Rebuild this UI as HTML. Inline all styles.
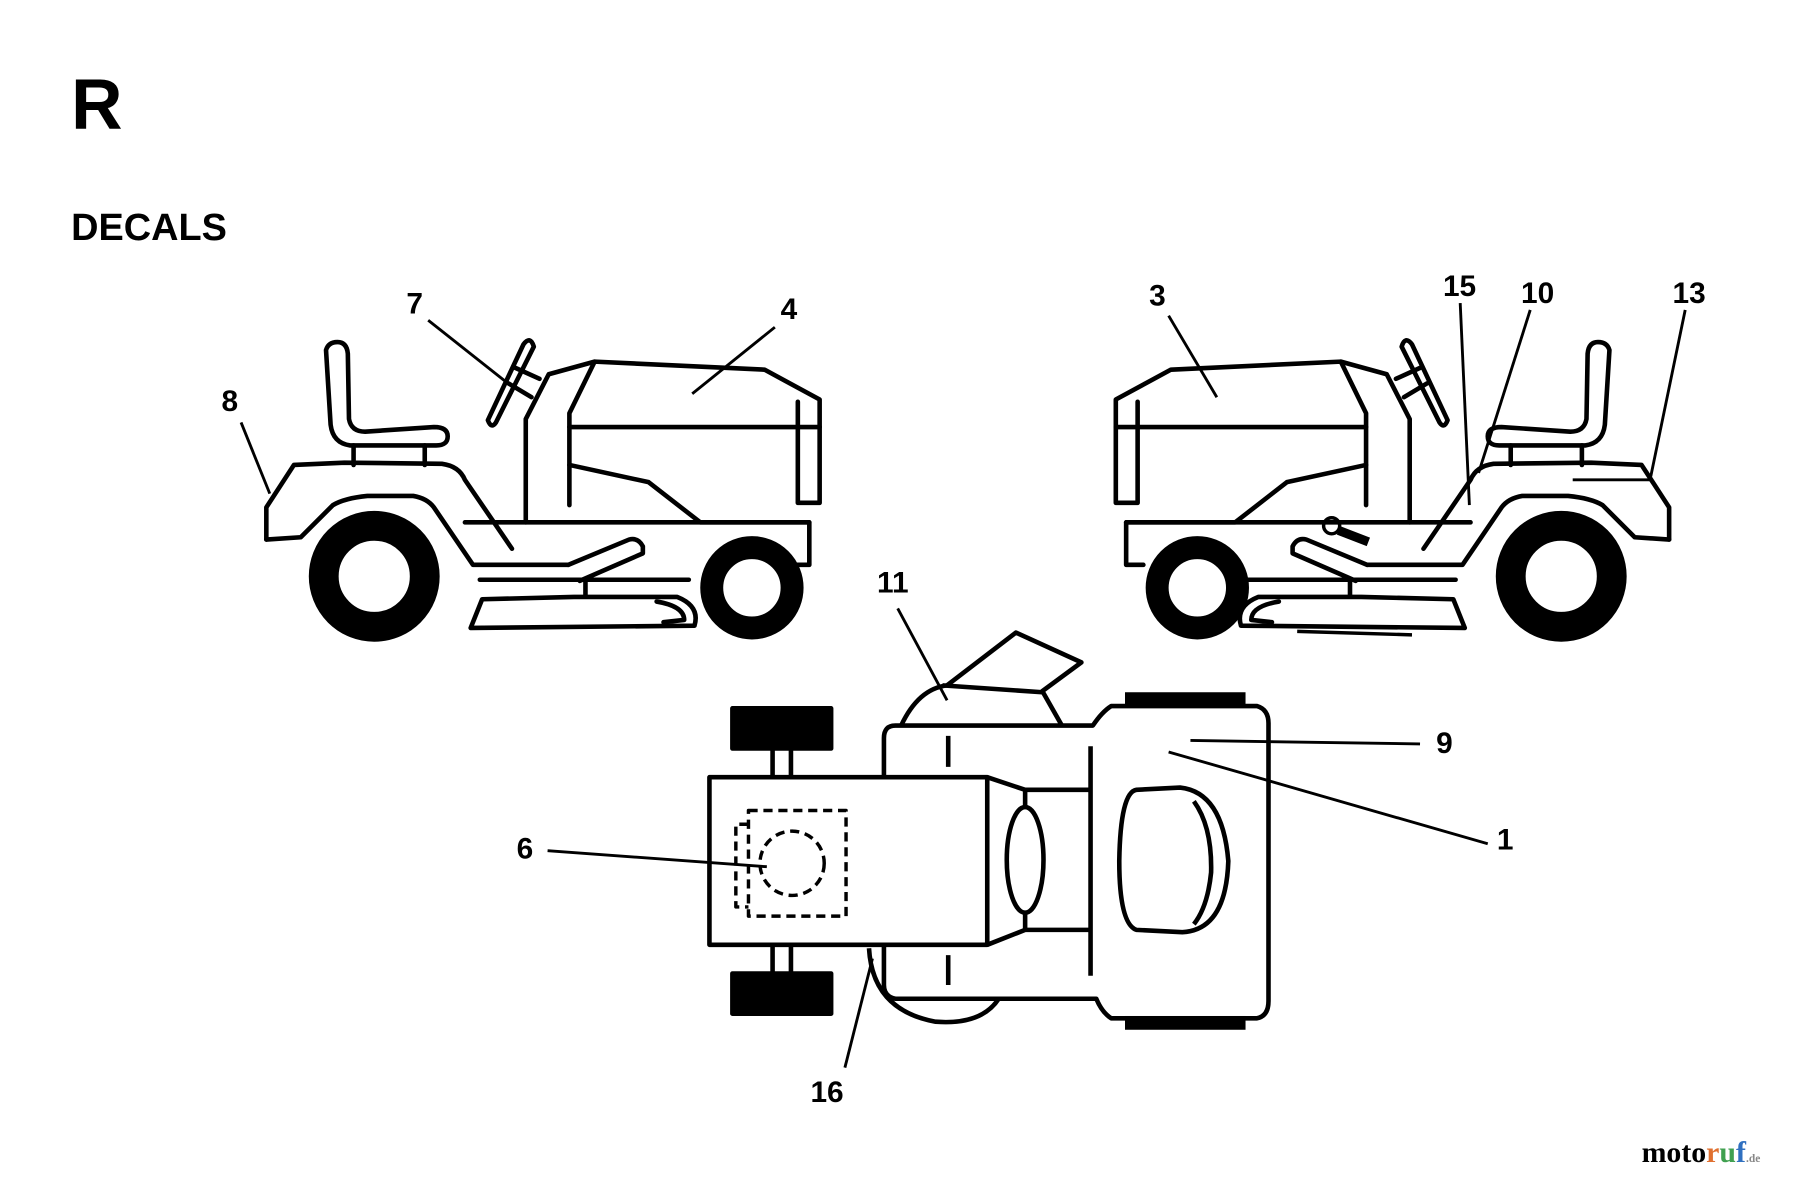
<!DOCTYPE html>
<html><head><meta charset="utf-8"><style>
html,body{margin:0;padding:0;background:#fff;width:1800px;height:1179px;overflow:hidden}
svg{display:block}
text{font-family:"Liberation Sans",Arial,sans-serif;font-weight:bold;fill:#000}
</style></head><body>
<svg width="1800" height="1179" viewBox="0 0 1568 1027" preserveAspectRatio="none" xmlns="http://www.w3.org/2000/svg">
<rect width="1568" height="1027" fill="#fff"/>
<text x="62" y="112" font-size="62">R</text>
<text x="62" y="209" font-size="33">DECALS</text>

<g id="lt" fill="none" stroke="#000" stroke-width="4" stroke-linejoin="round" stroke-linecap="round">
 <path d="M284,305 Q286,298 294,298 Q302,298 303,308 L304,365 Q306,376 318,376 L378,372 Q390,372 390,380 Q390,388 380,388 L305,388 Q290,386 288,370 Z"/>
 <line x1="308" y1="388" x2="308" y2="405"/><line x1="370" y1="388" x2="370" y2="405"/>
 <path d="M232,470 L232,442 L256,405 L300,403 L385,404 Q400,406 405,418 L446,478"/>
 <path d="M232,470 L262,468 L290,440 Q300,434 320,432 L360,432 Q372,434 378,442 L412,492 L495,492"/>
 <path d="M425,366 L456,300 Q462,292 465,302 L432,368 Q428,374 425,366 Z"/>
 <line x1="448" y1="320" x2="470" y2="330"/><line x1="443" y1="334" x2="463" y2="346"/>
 <path d="M458,455 L458,365 L478,326 L518,315 L666,322 L714,348 L714,438 L695,438 L695,350"/>
 <path d="M496,440 L496,360 L518,315"/>
 <line x1="496" y1="372" x2="714" y2="372"/>
 <path d="M496,405 L565,420 L610,455 L705,455"/>
 <path d="M405,455 L705,455 L705,492 L690,492"/>
 <path d="M495,492 L548,470 Q556,468 560,476 L560,482 L505,506"/>
 <line x1="418" y1="505" x2="600" y2="505"/>
 <path d="M510,505 L510,520 M500,520 L590,520 Q610,528 605,545 L410,547 L420,522 L500,520"/>
 <path d="M572,524 Q596,528 596,540 L578,542"/>
</g>
<g>
 <circle cx="326" cy="502" r="44" fill="none" stroke="#000" stroke-width="26"/>
 <circle cx="655" cy="512" r="35" fill="none" stroke="#000" stroke-width="20"/>
</g>
<g transform="translate(1686,0) scale(-1,1)">
 <use href="#lt"/>
 <circle cx="326" cy="502" r="44" fill="none" stroke="#000" stroke-width="26"/>
 <circle cx="643" cy="512" r="35" fill="none" stroke="#000" stroke-width="20"/>
</g>
<g fill="none" stroke="#000" stroke-width="3">
 <circle cx="1160" cy="458" r="7"/><line x1="1166" y1="462" x2="1192" y2="472" stroke-width="8"/>
 <line x1="1130" y1="550" x2="1230" y2="553"/>
</g>

<g fill="none" stroke="#000" stroke-width="4" stroke-linejoin="round">
 <rect x="638" y="617" width="86" height="35" fill="#000"/>
 <rect x="638" y="848" width="86" height="35" fill="#000"/>
 <line x1="673" y1="652" x2="673" y2="677"/><line x1="689" y1="652" x2="689" y2="677"/>
 <line x1="673" y1="823" x2="673" y2="848"/><line x1="689" y1="823" x2="689" y2="848"/>
 <rect x="980" y="603" width="105" height="13" fill="#000" stroke="none"/>
 <rect x="980" y="885" width="105" height="12" fill="#000" stroke="none"/>
 <path d="M785,632 Q800,600 825,597 L885,551 L942,577 L908,602 L925,632"/>
 <path d="M821,597 L908,603"/>
 <path d="M757,826 Q760,880 815,890 Q855,893 870,870"/>
 <path d="M770,677 L770,643 Q770,632 780,632 L952,632 Q960,620 968,615 L1095,615 Q1105,618 1105,630 L1105,872 Q1105,885 1095,887 L968,887 Q960,882 955,870 L780,870 Q770,868 770,858 L770,823"/>
 <rect x="618" y="677" width="242" height="146" fill="#fff"/>
 <path d="M860,677 L893,688 L950,688 M860,823 L893,810 L950,810"/>
 <line x1="893" y1="688" x2="893" y2="703"/><line x1="893" y1="795" x2="893" y2="810"/>
 <ellipse cx="893" cy="749" rx="16" ry="46"/>
 <line x1="950" y1="650" x2="950" y2="850"/>
 <line x1="826" y1="641" x2="826" y2="668"/><line x1="826" y1="832" x2="826" y2="858"/>
 <path d="M990,688 L1028,686 Q1065,690 1070,750 Q1068,810 1030,812 L990,810 Q975,805 975,750 Q976,690 990,688 Z"/>
 <path d="M1040,698 Q1056,720 1055,760 Q1052,790 1040,805"/>
 <g stroke-dasharray="8,5" stroke-width="3">
  <rect x="652" y="706" width="85" height="92"/>
  <path d="M652,718 L641,718 L641,790 L652,790"/>
  <circle cx="690" cy="752" r="28"/>
 </g>
</g>

<g stroke="#000" stroke-width="2.5">
 <line x1="210" y1="368" x2="235" y2="430"/>
 <line x1="373" y1="279" x2="440" y2="332"/>
 <line x1="675" y1="285" x2="603" y2="343"/>
 <line x1="1018" y1="275" x2="1060" y2="346"/>
 <line x1="1272" y1="264" x2="1280" y2="440"/>
 <line x1="1333" y1="270" x2="1288" y2="412"/>
 <line x1="1468" y1="270" x2="1438" y2="415"/>
 <line x1="1370" y1="418" x2="1438" y2="418"/>
 <line x1="782" y1="530" x2="825" y2="610"/>
 <line x1="1037" y1="645" x2="1237" y2="648"/>
 <line x1="1018" y1="655" x2="1296" y2="735"/>
 <line x1="477" y1="741" x2="668" y2="755"/>
 <line x1="736" y1="930" x2="760" y2="835"/>
</g>
<g font-size="26">
 <text x="193" y="358">8</text>
 <text x="354" y="273">7</text>
 <text x="680" y="278">4</text>
 <text x="1001" y="266">3</text>
 <text x="1257" y="258">15</text>
 <text x="1325" y="264">10</text>
 <text x="1457" y="264">13</text>
 <text x="764" y="516">11</text>
 <text x="1251" y="656">9</text>
 <text x="1304" y="740">1</text>
 <text x="450" y="748">6</text>
 <text x="706" y="960">16</text>
</g>
<text x="1430" y="1012" font-size="26" style="font-family:'Liberation Serif',serif" fill="#7a6fb0">moto<tspan fill="#e07030">r</tspan><tspan fill="#40a050">u</tspan><tspan fill="#3070c0">f</tspan><tspan font-size="10" fill="#888">.de</tspan></text>
</svg>
</body></html>
